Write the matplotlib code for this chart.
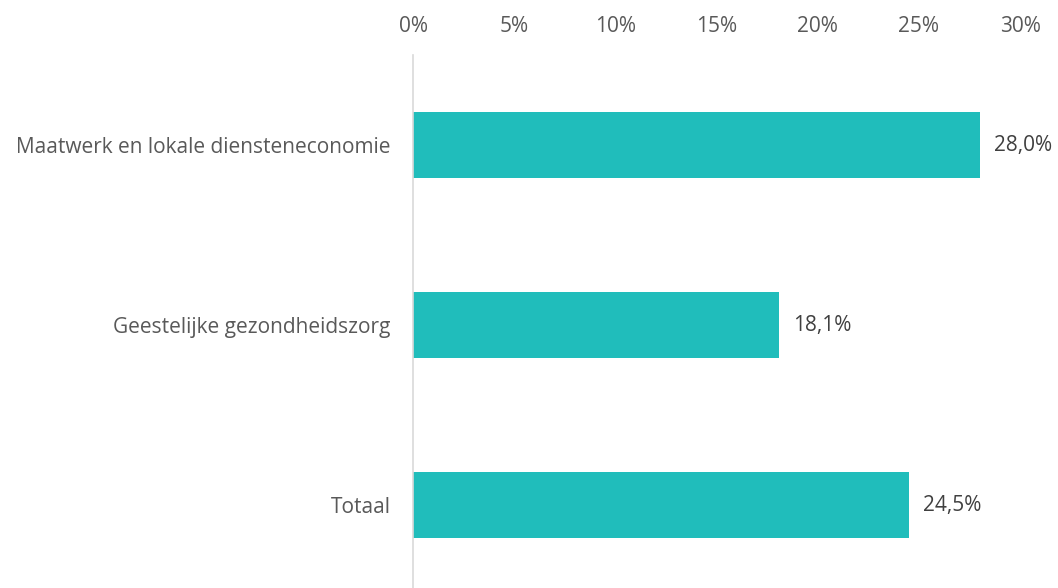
import matplotlib
matplotlib.use("Agg")
import matplotlib.pyplot as plt
from matplotlib.ticker import FuncFormatter

categories = ["Maatwerk en lokale diensteneconomie", "Geestelijke gezondheidszorg", "Totaal"]
values = [28.0, 18.1, 24.5]
xticks = [0, 5, 10, 15, 20, 25, 30]

BAR = "#20BDBB"
TICK_GREY = "#595959"
LABEL_GREY = "#404040"

plt.rcParams["font.family"] = ["Open Sans", "DejaVu Sans"]


def main():
    fig = plt.figure(figsize=(10.58, 5.88), dpi=100)
    ax = fig.add_axes([413 / 1058, 0, (1020 - 413) / 1058, (588 - 55) / 588])

    ypos = list(range(len(categories)))
    ax.barh(ypos, values, height=66 / 180, color=BAR)
    ax.set_xlim(0, 30)
    ax.set_ylim(-0.5 + 533 / 180, -0.5)

    ax.xaxis.tick_top()
    ax.set_xticks(xticks)
    ax.xaxis.set_major_formatter(FuncFormatter(lambda v, p: "%d%%" % v))
    ax.set_yticks(ypos)
    ax.set_yticklabels(categories)
    ax.tick_params(axis="x", length=0, pad=13, labelsize=15, colors=TICK_GREY)
    ax.tick_params(axis="y", length=0, pad=16, labelsize=15, colors=TICK_GREY)

    for side in ["top", "right", "bottom"]:
        ax.spines[side].set_visible(False)
    ax.spines["left"].set_color("#D9D9D9")
    ax.spines["left"].set_linewidth(1.2)

    for y, v in zip(ypos, values):
        ax.text(v + 0.7, y, ("%.1f%%" % v).replace(".", ","), va="center", ha="left",
                fontsize=15, color=LABEL_GREY)

    fig.savefig("out.png", dpi=100)


if __name__ == "__main__":
    main()
